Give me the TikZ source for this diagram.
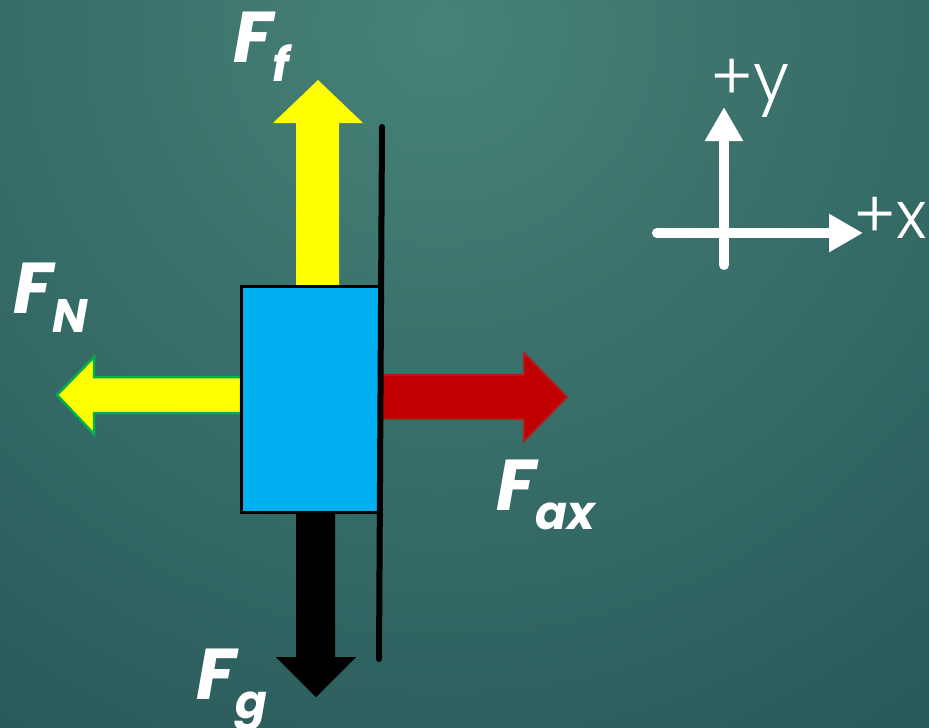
\documentclass[tikz,border=0pt]{standalone}
\usepackage{fontspec}
\setmainfont{Poppins}
\newfontfamily\axisfont{Poppins Light}
\usetikzlibrary{arrows.meta}

\definecolor{bgin}{RGB}{70,130,118}
\definecolor{bgout}{RGB}{22,64,74}
\definecolor{blockblue}{RGB}{0,176,240}
\definecolor{fyellow}{RGB}{255,255,0}
\definecolor{fgreen}{RGB}{0,176,80}
\definecolor{fred}{RGB}{192,0,0}
\definecolor{fredline}{RGB}{178,28,30}

\newcommand{\fsub}[1]{\raisebox{-19pt}{\fontsize{47}{47}\selectfont #1}}

\begin{document}
\begin{tikzpicture}[x=1pt, y=-1pt,
  lbl/.style={text=white, font=\fontsize{72}{72}\selectfont\bfseries\itshape, inner sep=0pt, anchor=base west},
  axlbl/.style={text=white, font=\fontsize{66}{66}\selectfont\axisfont, inner sep=0pt, anchor=base west},
  axisline/.style={white, line width=10pt, line cap=round, -{Triangle[length=34pt,width=36pt]}}]
  \useasboundingbox (0,0) rectangle (929,728);
  \begin{scope}
    \clip (0,0) rectangle (929,728);
    \shade[inner color=bgin, outer color=bgout] (440,30) circle (1350pt);
  \end{scope}

  % force arrows
  \fill[fyellow] (296,287) -- (296,123) -- (273,123) -- (318,80) -- (363,123) -- (339,123) -- (339,287) -- cycle;
  \filldraw[fill=fyellow, draw=fgreen, line width=2.5pt] (241,377) -- (94,377) -- (94,357) -- (57,395) -- (94,434) -- (94,413) -- (241,413) -- cycle;
  \filldraw[fill=fred, draw=fredline, line width=2pt] (378,375) -- (524,375) -- (524,353) -- (567,397) -- (524,441) -- (524,419) -- (378,419) -- cycle;
  \fill[black] (296,509) -- (296,657) -- (276,657) -- (316,697) -- (356,657) -- (335,657) -- (335,509) -- cycle;

  % block and wall
  \node[draw, fill=blockblue, line width=3pt, minimum width=138pt, minimum height=226pt, inner sep=0pt, anchor=north west] (block) at (240,285) {};
  \coordinate (walltop) at (382,127);
  \coordinate (wallbot) at (379,659);
  \draw[line width=6pt, line cap=round] (walltop) -- (wallbot);

  \node[lbl] (Ff) at (233,62) {F\fsub{f}};
  \node[lbl] (FN) at (13,313) {F\fsub{N}};
  \node[lbl] (Fax) at (496,510) {F\fsub{ax}};
  \node[lbl] (Fg) at (196,699) {F\fsub{g}};

  % axes
  \coordinate (ybot) at (724,265);
  \coordinate (ytip) at (724,107);
  \coordinate (xleft) at (657,233);
  \coordinate (xtip) at (863,233);
  \draw[axisline] (ybot) -- (ytip);
  \draw[axisline] (xleft) -- (xtip);
  \node[axlbl] (ylbl) at (710,100) {+y};
  \node[axlbl] (xlbl) at (853,238) {+x};
\end{tikzpicture}
\end{document}
